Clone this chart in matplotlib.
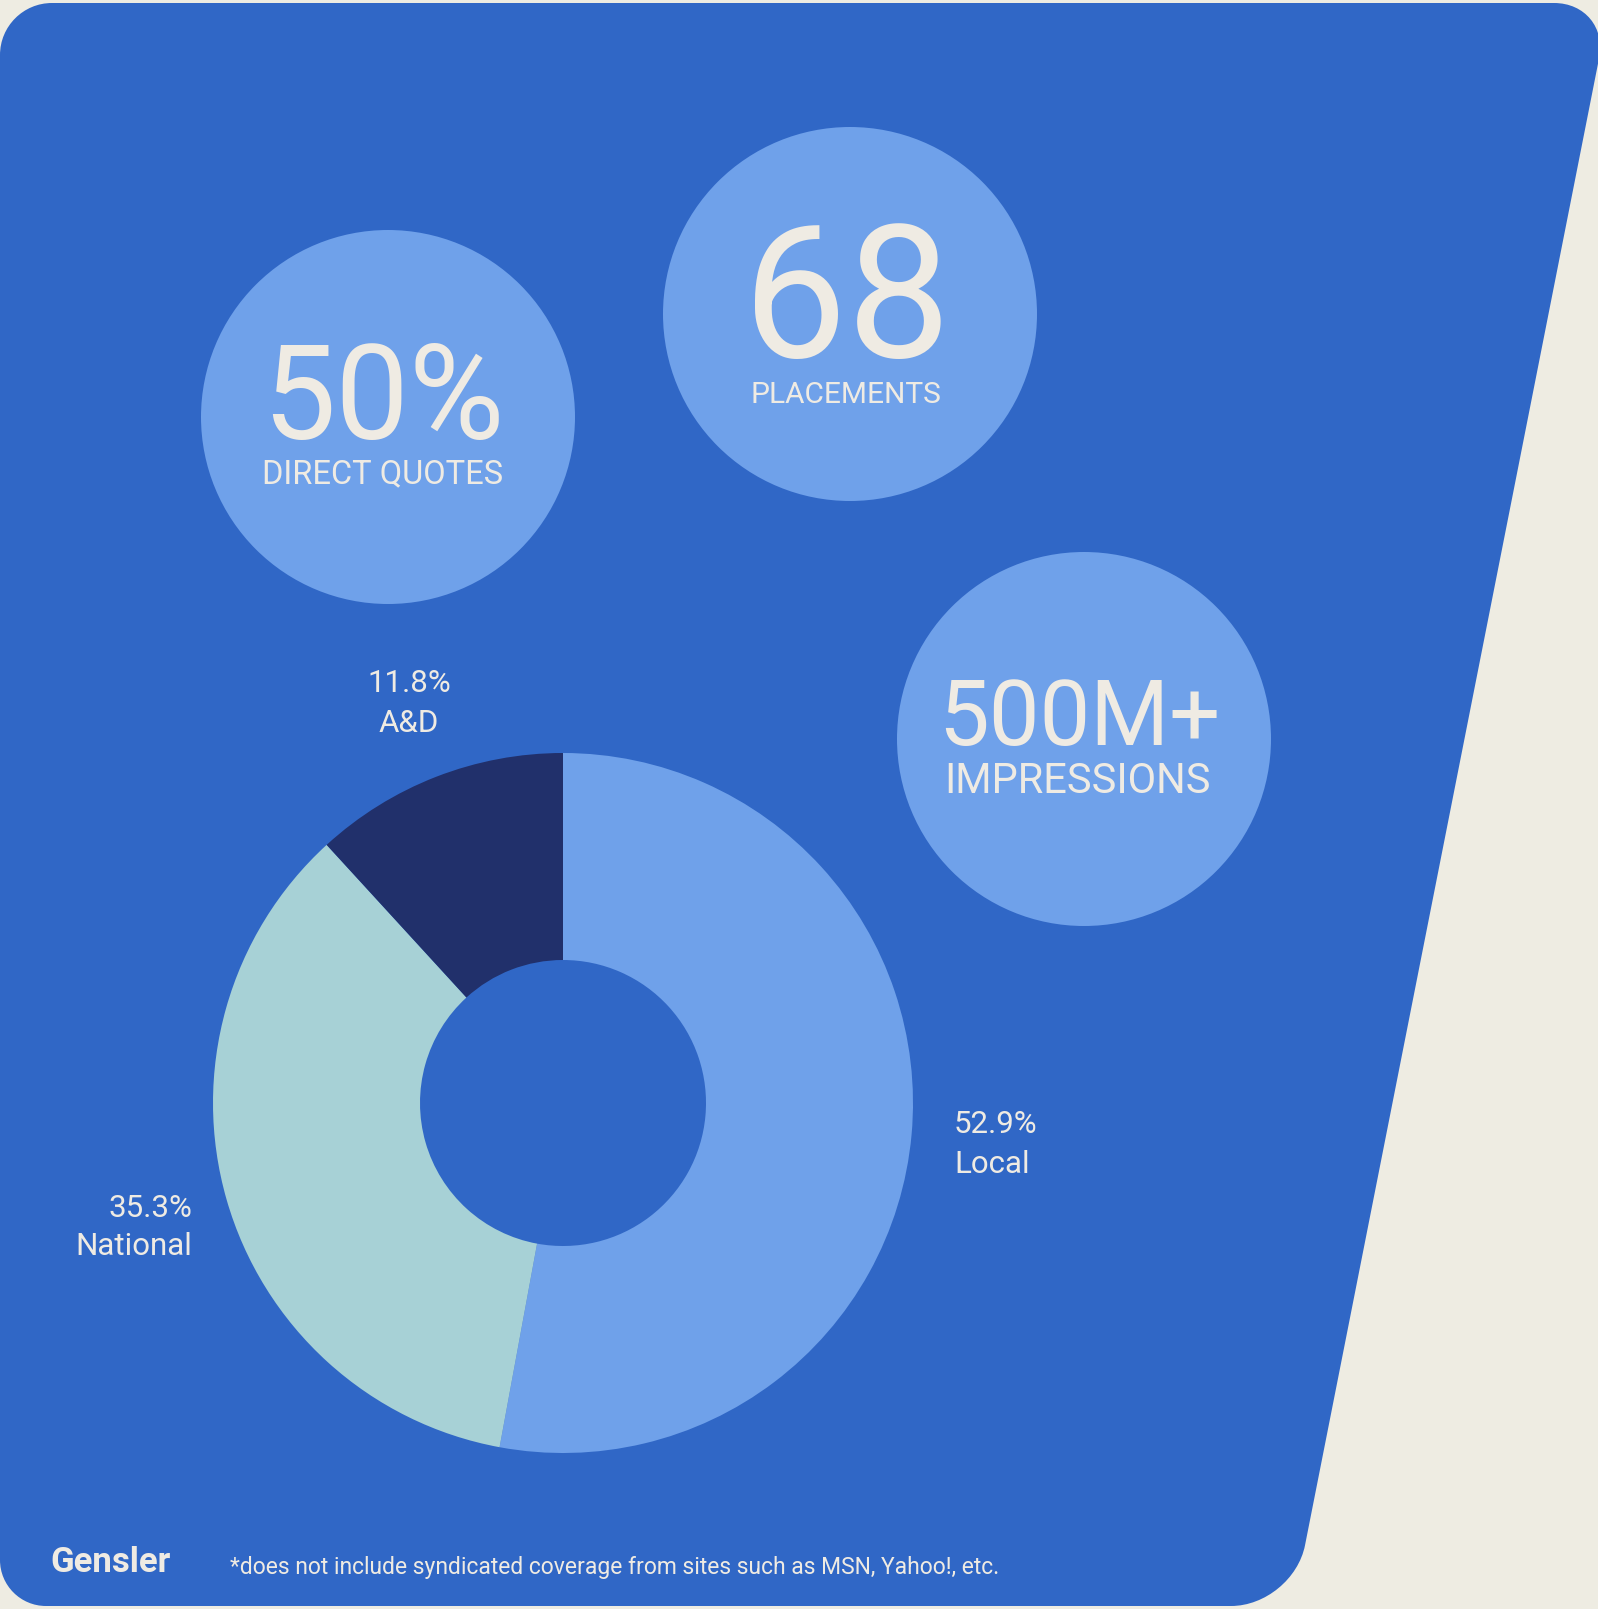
"""Gensler media coverage infographic: stat bubbles + coverage-type donut."""
import numpy as np
import matplotlib
matplotlib.use("Agg")
import matplotlib.pyplot as plt
from matplotlib.path import Path
from matplotlib.patches import PathPatch, Circle

W, H = 1598, 1609

# data
segments = ["Local", "National", "A&D"]
shares = [52.9, 35.3, 11.8]
seg_colors = ["#6FA1EA", "#A7D1D6", "#21306B"]

stat_values = ["50%", "68", "500M+"]
stat_labels = ["DIRECT QUOTES", "PLACEMENTS", "IMPRESSIONS"]

footnote = "*does not include syndicated coverage from sites such as MSN, Yahoo!, etc."
brand = "Gensler"

CREAM = "#EEECE2"
BLUE = "#3067C6"
BUBBLE = "#6FA1EA"
TXT = "#EFEBE3"
FONT = ["Roboto", "DejaVu Sans"]


def Y(y):
    # pixel row (top-down) -> data y (bottom-up)
    return H - y


def rounded_poly(pts, radii, k=0.552):
    pts = [np.array(p, float) for p in pts]
    n = len(pts)
    verts, codes = [], []
    for i in range(n):
        prev, v, nxt = pts[i - 1], pts[i], pts[(i + 1) % n]
        r = radii[i]
        a = v + (prev - v) / np.linalg.norm(prev - v) * r
        b = v + (nxt - v) / np.linalg.norm(nxt - v) * r
        verts.append(a)
        codes.append(Path.MOVETO if i == 0 else Path.LINETO)
        verts += [a + (v - a) * k, b + (v - b) * k, b]
        codes += [Path.CURVE4] * 3
    verts.append(verts[0])
    codes.append(Path.CLOSEPOLY)
    return Path(verts, codes)


fig = plt.figure(figsize=(W / 100, H / 100), dpi=100, facecolor=CREAM)
ax = fig.add_axes([0, 0, 1, 1])
ax.set_xlim(0, W)
ax.set_ylim(0, H)
ax.axis("off")

# slanted blue panel
corners = [(0, Y(3)), (1610, Y(3)), (1293, Y(1606)), (0, Y(1606))]
panel = rounded_poly(corners, [52, 56, 62, 46])
ax.add_patch(PathPatch(panel, facecolor=BLUE, edgecolor="none"))

# stat bubbles
bubbles = [(388, 417), (850, 314), (1084, 739)]
for cx, cy in bubbles:
    ax.add_patch(Circle((cx, Y(cy)), 187, facecolor=BUBBLE, edgecolor="none"))

big_fs = [94, 133, 65]
big_pos = [(383, 439), (847, 357), (1079, 745)]
small_fs = [23.5, 21.5, 30]
small_pos = [(383, 483), (846, 403), (1077, 793)]
for val, lab, bf, bp, sf, sp in zip(stat_values, stat_labels, big_fs, big_pos,
                                      small_fs, small_pos):
    ax.text(bp[0], Y(bp[1]), val, fontsize=bf, color=TXT, ha="center",
            va="baseline", family=FONT)
    ax.text(sp[0], Y(sp[1]), lab, fontsize=sf, color=TXT, ha="center",
            va="baseline", family=FONT)

# donut
dc, r_out, r_in = (563, Y(1103)), 350, 143
ax.pie(shares, colors=seg_colors, startangle=90, counterclock=False,
       center=dc, radius=r_out, frame=True,
       wedgeprops=dict(width=r_out - r_in, edgecolor="none", linewidth=0))
ax.set_xlim(0, W)
ax.set_ylim(0, H)
ax.set_aspect("auto")
ax.axis("off")

# donut labels: (x, baseline of pct line, baseline of name line, ha)
lab_pos = {"Local": (954, 1133, 1173, "left"),
           "National": (192, 1217, 1255, "right"),
           "A&D": (409, 692, 732, "center")}
for name, v in zip(segments, shares):
    x, y1, y2, ha = lab_pos[name]
    ax.text(x, Y(y1), f"{v}%", fontsize=22.5, color=TXT, ha=ha, va="baseline",
            family=FONT)
    ax.text(x, Y(y2), name, fontsize=22.5, color=TXT, ha=ha, va="baseline",
            family=FONT)

# footer
ax.text(50, Y(1572), brand, fontsize=25, color=TXT, ha="left", va="baseline",
        family=FONT, fontweight="bold")
ax.text(230, Y(1574), footnote, fontsize=16.5, color=TXT, ha="left",
        va="baseline", family=FONT)

fig.savefig("out.png", dpi=100, facecolor=CREAM)
